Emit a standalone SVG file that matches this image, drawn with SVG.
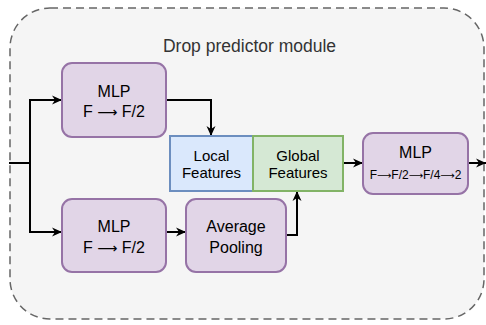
<svg xmlns="http://www.w3.org/2000/svg" width="486" height="325" viewBox="0 0 486 325">
  <defs>
    <marker id="arrow" markerWidth="11" markerHeight="10" refX="10" refY="5" orient="auto" markerUnits="userSpaceOnUse">
      <path d="M0,0.5 L10,5 L0,9.5 L3,5 z" fill="#000"/>
    </marker>
    <style>
      .t { font-family: "Liberation Sans", Arial, sans-serif; fill: #000; text-anchor: middle; }
      .ar { font-family: "DejaVu Sans", sans-serif; }
      .purple { fill: #e1d5e7; stroke: #9673a6; stroke-width: 2; }
      .edge { fill: none; stroke: #000; stroke-width: 2; marker-end: url(#arrow); }
    </style>
  </defs>
  <g id="container">
    <rect x="10" y="8" width="474" height="311" rx="40" ry="40" fill="#f5f5f5" stroke="#666666" stroke-width="1.5" stroke-dasharray="8 5"/>
    <text class="t" x="249.5" y="52" font-size="17.5" style="fill:#333333">Drop predictor module</text>
  </g>
  <g id="connectors">
    <path class="edge" d="M9,163 H30 V100 H62"/>
    <path class="edge" d="M30,163 V232 H62"/>
    <path class="edge" d="M166,100 H211 V136"/>
    <path class="edge" d="M166,232 H186"/>
    <path class="edge" d="M286,235 H297 V191"/>
    <path class="edge" d="M343,163 H363"/>
    <path class="edge" d="M468,163 H486"/>
  </g>
  <g id="mlp1">
    <rect class="purple" x="62" y="63" width="104" height="74" rx="10"/>
    <text class="t" x="114" y="97" font-size="16">MLP</text>
    <text class="t" x="114" y="117" font-size="16">F <tspan class="ar" font-size="14">⟶</tspan> F/2</text>
  </g>
  <g id="mlp2">
    <rect class="purple" x="62" y="199" width="104" height="73" rx="10"/>
    <text class="t" x="114" y="232" font-size="16">MLP</text>
    <text class="t" x="114" y="253" font-size="16">F <tspan class="ar" font-size="14">⟶</tspan> F/2</text>
  </g>
  <g id="avgpool">
    <rect class="purple" x="186" y="199" width="100" height="73" rx="10"/>
    <text class="t" x="236" y="232" font-size="16">Average</text>
    <text class="t" x="236" y="253" font-size="16">Pooling</text>
  </g>
  <g id="local">
    <rect x="170" y="136" width="83" height="55" fill="#dae8fc" stroke="#6c8ebf" stroke-width="2"/>
    <text class="t" x="211.5" y="161" font-size="15">Local</text>
    <text class="t" x="211.5" y="177.5" font-size="15">Features</text>
  </g>
  <g id="global">
    <rect x="253" y="136" width="90" height="55" fill="#d5e8d4" stroke="#82b366" stroke-width="2"/>
    <text class="t" x="298" y="161" font-size="15">Global</text>
    <text class="t" x="298" y="177.5" font-size="15">Features</text>
  </g>
  <g id="mlp3">
    <rect class="purple" x="363" y="133" width="105" height="61" rx="10"/>
    <text class="t" x="415.5" y="158" font-size="16">MLP</text>
    <text class="t" x="415.5" y="179" font-size="12">F<tspan class="ar" font-size="10">⟶</tspan>F/2<tspan class="ar" font-size="10">⟶</tspan>F/4<tspan class="ar" font-size="10">⟶</tspan>2</text>
  </g>
</svg>
